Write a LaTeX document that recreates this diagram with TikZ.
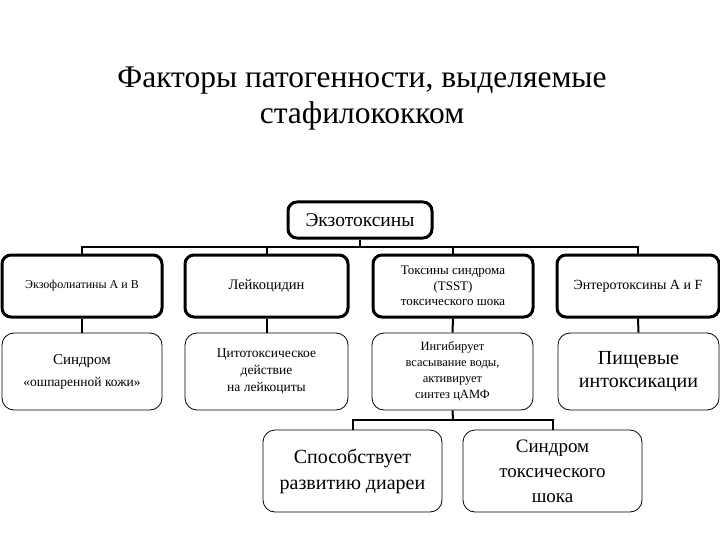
\documentclass[tikz,border=0pt]{standalone}
\usepackage{fontspec}
\setmainfont{Liberation Serif}
\begin{document}
\begin{tikzpicture}[x=1pt,y=-1pt,
  thickbox/.style={draw, line width=3pt, rounded corners=9pt, align=center, inner sep=1pt, anchor=center},
  thinbox/.style={draw, line width=0.8pt, rounded corners=12pt, align=center, inner sep=1pt, anchor=center},
  conn/.style={draw, line width=2pt}]
\useasboundingbox (0,0) rectangle (720,540);
\node[align=center, font=\fontsize{31.5}{36}\selectfont] (title) at (362,99) {Факторы патогенности, выделяемые\\стафилококком};
\node[thickbox, minimum width=144pt, minimum height=36pt, font=\fontsize{19.5}{22}\selectfont] (exo) at (360,220) {Экзотоксины};
\begin{scope}[every node/.append style={minimum height=62pt}]
\node[thickbox, minimum width=160pt, font=\fontsize{12}{15.5}\selectfont] (r1a) at (82,286) {Экзофолиатины А и В};
\node[thickbox, minimum width=163pt, font=\fontsize{14.5}{15.5}\selectfont] (r1b) at (266.5,286) {Лейкоцидин};
\node[thickbox, minimum width=160pt, font=\fontsize{13}{15.5}\selectfont] (r1c) at (453,286) {Токсины синдрома\\(TSST)\\токсического шока};
\node[thickbox, minimum width=162pt, font=\fontsize{14}{15.5}\selectfont] (r1d) at (638,286) {Энтеротоксины А и F};
\end{scope}
\node[thinbox, minimum width=160pt, minimum height=77pt, font=\fontsize{15}{18}\selectfont] (r2a) at (82,371.5) {Синдром\\[4pt]{\fontsize{13.5}{18}\selectfont «ошпаренной кожи»}};
\node[thinbox, minimum width=163pt, minimum height=77pt, font=\fontsize{13.5}{17}\selectfont] (r2b) at (266.5,371.5) {Цитотоксическое\\действие\\на лейкоциты};
\node[thinbox, minimum width=161pt, minimum height=77pt, font=\fontsize{12.5}{16}\selectfont] (r2c) at (452.5,371.5) {Ингибирует\\всасывание воды,\\активирует\\синтез цАМФ};
\node[thinbox, minimum width=161pt, minimum height=77pt, font=\fontsize{20}{23.5}\selectfont] (r2d) at (638.5,371.5) {Пищевые\\интоксикации};
\node[thinbox, minimum width=179pt, minimum height=82pt, font=\fontsize{20}{26}\selectfont] (r3a) at (352.5,471) {Способствует\\развитию диареи};
\node[thinbox, minimum width=179pt, minimum height=82pt, font=\fontsize{19}{25}\selectfont] (r3b) at (552.5,471) {Синдром\\токсического\\шока};
\coordinate (bus1) at (360,247);
\coordinate (bus2) at (453,420);
\draw[conn] (exo.south) -- (bus1);
\foreach \n in {r1a,r1b,r1c,r1d} \draw[conn] (\n.north) |- (bus1);
\draw[conn] (r1a.south) -- (r2a.north);
\draw[conn] (r1b.south) -- (r2b.north);
\draw[conn] (r1c.south) -- (r2c.north);
\draw[conn] (r1d.south) -- (r2d.north);
\draw[conn] (r2c.south) -- (bus2);
\draw[conn] (r3a.north) |- (bus2);
\draw[conn] (r3b.north) |- (bus2);
\end{tikzpicture}
\end{document}
